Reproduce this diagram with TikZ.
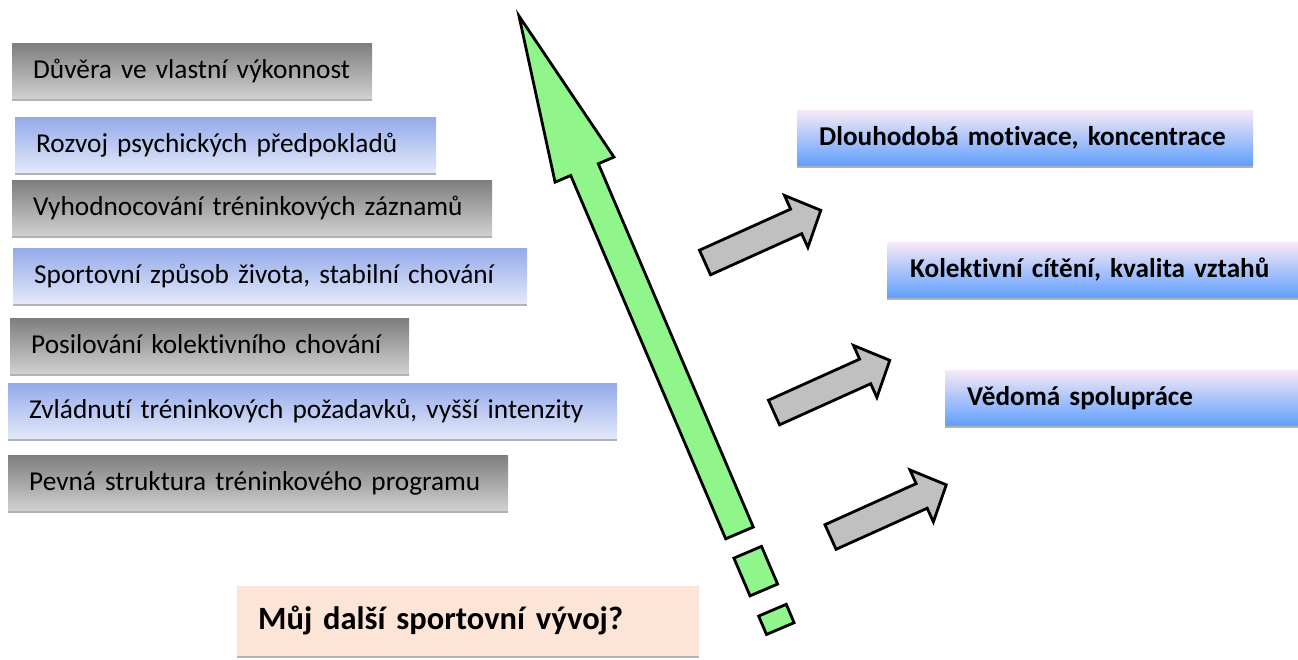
\documentclass[tikz,border=0pt]{standalone}
\usepackage{fontspec}
\setmainfont{Carlito}[Ligatures={NoCommon}]
\usetikzlibrary{positioning}

\definecolor{gtop}{HTML}{7E7E7E}
\definecolor{gbot}{HTML}{D3D3D3}
\definecolor{btop}{HTML}{94AAEA}
\definecolor{bbot}{HTML}{E6EBFA}
\definecolor{rtop}{HTML}{F7E9F6}
\definecolor{rmid}{HTML}{A8CCF6}
\definecolor{rbot}{HTML}{5B9DFE}
\definecolor{peach}{HTML}{FCE4D6}
\definecolor{arrowgreen}{HTML}{90F58B}
\definecolor{arrowgray}{HTML}{C0C0C0}

\begin{document}
\begin{tikzpicture}[
    x=1pt, y=-1pt,
    box/.style={anchor=north west, minimum height=57pt, inner xsep=21pt, inner ysep=0pt,
        text height=17pt, text depth=4pt, align=left, font=\fontsize{27.3}{32}\selectfont,
        path picture={\draw[line width=2pt, black!30] (path picture bounding box.south west) -- (path picture bounding box.south east);}},
    graybox/.style={box, top color=gtop, bottom color=gbot},
    bluebox/.style={box, top color=btop, bottom color=bbot},
    goalbox/.style={box, inner xsep=22pt, font=\fontsize{27.2}{32}\selectfont\bfseries,
        top color=rtop, middle color=rmid, bottom color=rbot},
    questbox/.style={box, minimum height=71pt, inner xsep=21pt, text height=20pt, text depth=5pt,
        font=\fontsize{32.5}{38}\selectfont\bfseries, fill=peach},
    outline/.style={draw=black, line width=2.8pt, line join=miter},
    blockarrow/.pic={
        \draw[outline, fill=arrowgray] (0,-13.5) -- (100,-13.5) -- (100,-28.5) -- (127,0)
            -- (100,28.5) -- (100,13.5) -- (0,13.5) -- cycle;
    }
]
    \useasboundingbox (0,0) rectangle (1298,659);

    % steps on the left
    \node[graybox, text width=318pt] (trust) at (12,43) {Důvěra ve vlastní výkonnost};
    \node[bluebox, text width=379pt] (psych) at (15,117) {Rozvoj psychických předpokladů};
    \node[graybox, text width=438pt] (records) at (12,180) {Vyhodnocování tréninkových záznamů};
    \node[bluebox, text width=472pt] (life) at (13,248) {Sportovní způsob života, stabilní chování};
    \node[graybox, text width=357pt] (team) at (10,318) {Posilování kolektivního chování};
    \node[bluebox, text width=567pt] (load) at (8,383) {Zvládnutí tréninkových požadavků, vyšší intenzity};
    \node[graybox, text width=458pt] (plan) at (8,455) {Pevná struktura tréninkového programu};

    % goals on the right
    \node[goalbox, text width=412pt] (motiv) at (797,110) {\mbox{Dlouhodobá motivace, koncentrace}};
    \node[goalbox, inner xsep=23pt, text width=365pt] (relat) at (887,242) {\mbox{Kolektivní cítění, kvalita vztahů}};
    \node[goalbox, text width=309pt] (coop) at (945,370) {Vědomá spolupráce};

    % question
    \node[questbox, text width=420pt] (quest) at (237,586) {Můj další sportovní vývoj?};

    % big green arrow
    \begin{scope}[shift={(519,16)}, rotate=-66.9]
        \draw[outline, fill=arrowgreen] (0,0) -- (167,32) -- (167,15) -- (562,15) -- (562,-15)
            -- (167,-15) -- (167,-32) -- cycle;
        \draw[outline, fill=arrowgreen] (583,-15) rectangle (624,15);
        \draw[outline, fill=arrowgreen] (646,-15) rectangle (666,15);
    \end{scope}

    % gray arrows
    \pic[shift={(705,262.5)}, rotate=24.26] {blockarrow};
    \pic[shift={(774,412.5)}, rotate=24.26] {blockarrow};
    \pic[shift={(830.5,537)}, rotate=24.26] {blockarrow};
\end{tikzpicture}
\end{document}
